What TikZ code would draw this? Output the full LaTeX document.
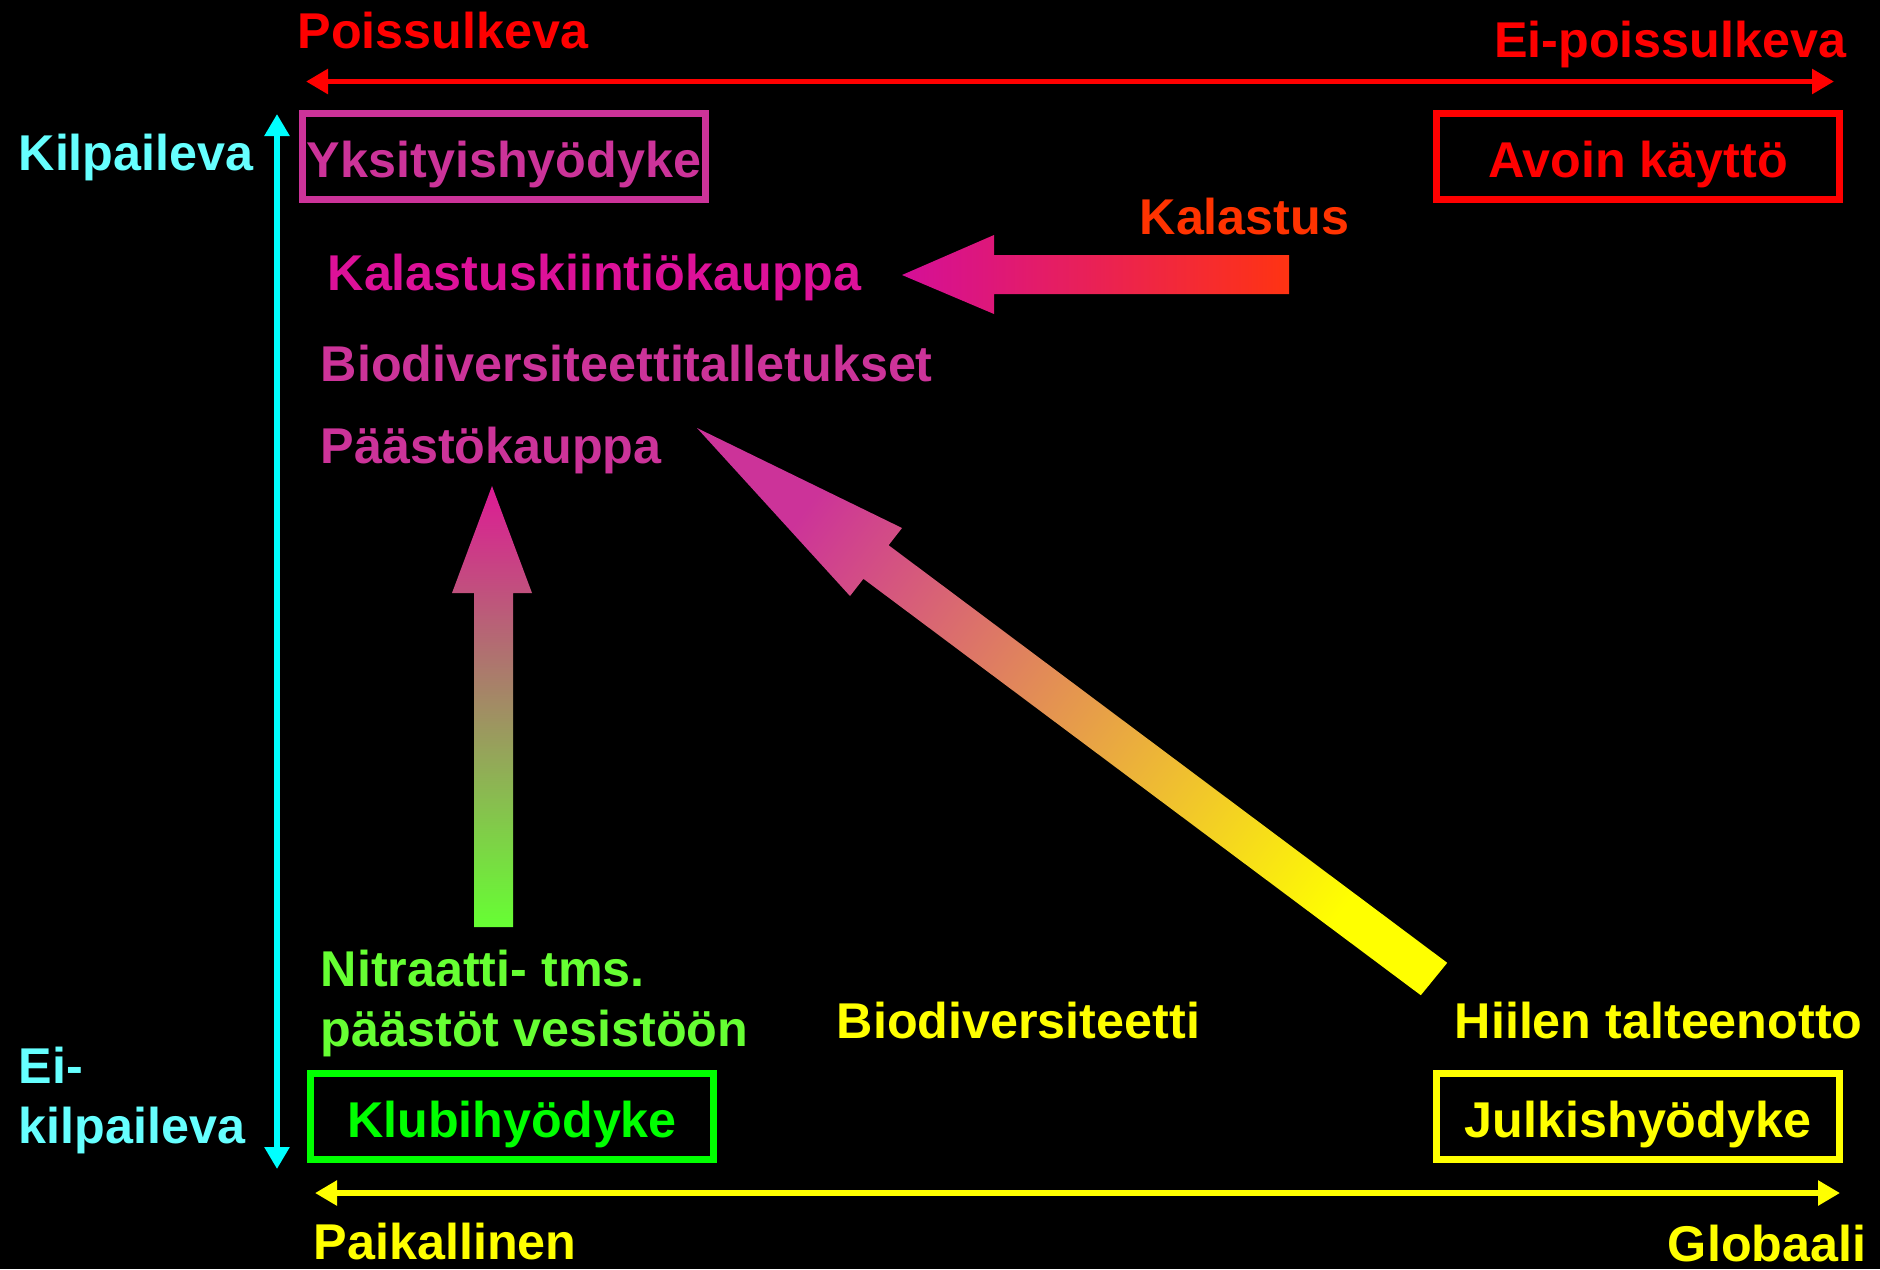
\documentclass[tikz,border=0pt]{standalone}
\usepackage{fontspec}
\setmainfont{Liberation Sans}
\usetikzlibrary{arrows.meta}
\definecolor{redc}{HTML}{FF0000}
\definecolor{cyanline}{HTML}{00FFFF}
\definecolor{cyantext}{HTML}{66FFFF}
\definecolor{pinkc}{HTML}{CC3399}
\definecolor{magc}{HTML}{DD1199}
\definecolor{orangec}{HTML}{FF3300}
\definecolor{lgreen}{HTML}{66FF33}
\definecolor{greenc}{HTML}{00FF00}
\definecolor{yellowc}{HTML}{FFFF00}
\definecolor{kalL}{HTML}{D40F98}
\definecolor{kalR}{HTML}{FF3312}
\definecolor{vertTop}{HTML}{DD1A95}
\definecolor{diagTip}{HTML}{CC3399}
\begin{document}
\begin{tikzpicture}[x=0.01cm,y=-0.01cm,
  every node/.style={font=\bfseries\fontsize{14.3}{16.8}\selectfont, inner sep=0pt},
  lbl/.style={anchor=base west},
  lblr/.style={anchor=base east},
  goodbox/.style={draw, line width=0.07cm, minimum width=4.03cm, minimum height=0.86cm,
    text height=0.42cm, text depth=0cm, anchor=center},
  axisline/.style={line width=0.055cm, {Triangle[length=0.22cm,width=0.24cm]}-{Triangle[length=0.22cm,width=0.24cm]}}]
\fill[black] (0,0) rectangle (1880,1269);
\useasboundingbox (0,0) rectangle (1880,1269);

% axis end points
\coordinate (exL) at (306,81.5);
\coordinate (exR) at (1834,81.5);
\coordinate (rvT) at (277,114);
\coordinate (rvB) at (277,1169);
\coordinate (scL) at (315,1193);
\coordinate (scR) at (1840,1193);

\draw[axisline, redc] (exL) -- (exR);
\draw[axisline, cyanline] (rvT) -- (rvB);
\draw[axisline, yellowc] (scL) -- (scR);

% axis labels
\node[lbl, text=redc] (pois) at (297,48) {Poissulkeva};
\node[lblr, text=redc] (eipois) at (1847,57.5) {Ei-poissulkeva};
\node[lbl, text=cyantext] (kilp) at (18,170) {Kilpaileva};
\node[lbl, text=cyantext, align=left] (eikilp) at (18,1143) {Ei-\\kilpaileva};
\node[lbl, text=yellowc] (paik) at (313,1259) {Paikallinen};
\node[lblr, text=yellowc] (glob) at (1867,1261) {Globaali};

% boxes
\node[goodbox, pinkc, text=pinkc] (yks) at (504,156.5) {Yksityishyödyke};
\node[goodbox, redc, text=redc] (avoin) at (1638,156.5) {Avoin käyttö};
\node[goodbox, greenc, text=greenc] (klubi) at (512,1116) {Klubihyödyke};
\node[goodbox, yellowc, text=yellowc] (julk) at (1638,1116.5) {Julkishyödyke};

% item labels
\node[lbl, text=orangec] (kal) at (1139,234) {Kalastus};
\node[lbl, text=magc] (kalk) at (327,290) {Kalastuskiintiökauppa};
\node[lbl, text=pinkc] (biot) at (320,381) {Biodiversiteettitalletukset};
\node[lbl, text=pinkc] (paast) at (320,463) {Päästökauppa};
\node[lbl, text=lgreen, align=left] (nitr) at (320,1046) {Nitraatti- tms.\\päästöt vesistöön};
\node[lbl, text=yellowc] (biod) at (836,1038) {Biodiversiteetti};
\node[lbl, text=yellowc] (hiili) at (1454,1038) {Hiilen talteenotto};

% block arrows
\coordinate (kalTip) at (902,275);
\coordinate (kalEnd) at (1289,275);
\shade[left color=kalL, right color=kalR]
  (kalTip) -- (994,235) -- (994,255) -- (1289,255) -- (1289,294) -- (994,294) -- (994,314) -- cycle;

\coordinate (vTip) at (492,486);
\coordinate (vEnd) at (492,927);
\shade[top color=vertTop, bottom color=lgreen]
  (vTip) -- (532,593) -- (513,593) -- (513,927) -- (474,927) -- (474,593) -- (452,593) -- cycle;

\coordinate (dTip) at (697,428);
\coordinate (dEnd) at (1434,979);
\shade[top color=diagTip, bottom color=yellowc, shading angle=53.2]
  (dTip) -- (902,528) -- (888.6,545.2) -- (1447.2,962.8) -- (1420.8,995.2) -- (863.4,578.8) -- (850,596) -- cycle;
\end{tikzpicture}
\end{document}
